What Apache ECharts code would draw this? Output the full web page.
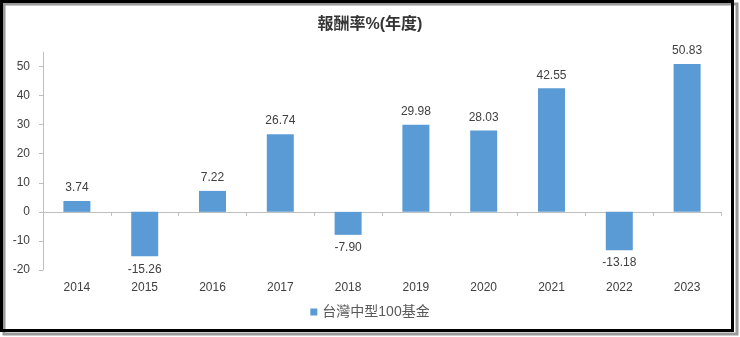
<!DOCTYPE html>
<html>
<head>
<meta charset="utf-8">
<script src="https://cdn.jsdelivr.net/npm/echarts@6/dist/echarts.min.js"></script>
<style>
  html, body { margin: 0; padding: 0; background: #fff; }
  #chart { width: 740px; height: 337px; }
</style>
</head>
<body>
<div id="chart"></div>
<script>
// Annual returns (%) of the fund, one bar per year
const years = ['2014', '2015', '2016', '2017', '2018', '2019', '2020', '2021', '2022', '2023'];
const returns = [3.74, -15.26, 7.22, 26.74, -7.90, 29.98, 28.03, 42.55, -13.18, 50.83];
const yTicks = [-20, -10, 0, 10, 20, 30, 40, 50];
const seriesName = '台灣中型100基金';
const titleText = '報酬率%(年度)';

const font = '"Liberation Sans", "Noto Sans CJK TC", sans-serif';
const chart = echarts.init(document.getElementById('chart'), null, { renderer: 'canvas' });

chart.setOption({
  animation: false,
  backgroundColor: '#ffffff',
  title: {
    text: titleText,
    left: 'center',
    top: 12,
    textStyle: { fontFamily: font, fontSize: 16, fontWeight: 'bold', color: '#333333' }
  },
  legend: {
    data: [seriesName],
    bottom: 13,
    left: 'center',
    icon: 'rect',
    itemWidth: 7,
    itemHeight: 7,
    itemGap: 4,
    textStyle: { fontFamily: font, fontSize: 14, color: '#595959' }
  },
  grid: { left: 43, right: 19, top: 52, bottom: 67, containLabel: false },
  xAxis: [
    {
      // line through zero with category-boundary ticks
      type: 'category',
      data: years,
      position: 'bottom',
      axisLine: { onZero: true, lineStyle: { color: '#bfbfbf', width: 1 } },
      axisTick: { show: true, length: 4, alignWithLabel: false, lineStyle: { color: '#bfbfbf' } },
      axisLabel: { show: false }
    },
    {
      // year labels along the bottom of the plot
      type: 'category',
      data: years,
      position: 'bottom',
      axisLine: { show: false, onZero: false },
      axisTick: { show: false },
      axisLabel: { show: true, margin: 12, fontFamily: font, fontSize: 12, color: '#404040' }
    }
  ],
  yAxis: {
    type: 'value',
    min: -20,
    max: 55,
    interval: 10,
    splitLine: { show: false },
    axisLine: { show: true, lineStyle: { color: '#bfbfbf' } },
    axisTick: { show: true, length: 4, customValues: yTicks, lineStyle: { color: '#bfbfbf' } },
    axisLabel: { customValues: yTicks, margin: 13, fontFamily: font, fontSize: 12, color: '#404040' }
  },
  series: [{
    name: seriesName,
    type: 'bar',
    barWidth: 27,
    itemStyle: { color: '#5b9bd5' },
    // negative bars carry their label beneath the bar
    data: returns.map(v => v < 0 ? { value: v, label: { position: 'bottom' } } : v),
    label: {
      show: true,
      position: 'top',
      distance: 7,
      fontFamily: font,
      fontSize: 12,
      color: '#404040',
      formatter: p => p.value.toFixed(2)
    }
  }],
  graphic: [
    {
      type: 'rect',
      shape: { x: 4, y: 4, width: 733, height: 330 },
      style: { fill: 'none', stroke: '#9a9a9a', lineWidth: 3 },
      z: 100
    },
    {
      type: 'rect',
      shape: { x: 1.5, y: 1.5, width: 731, height: 329 },
      style: { fill: 'none', stroke: '#000000', lineWidth: 3 },
      z: 101
    }
  ]
});
</script>
</body>
</html>
